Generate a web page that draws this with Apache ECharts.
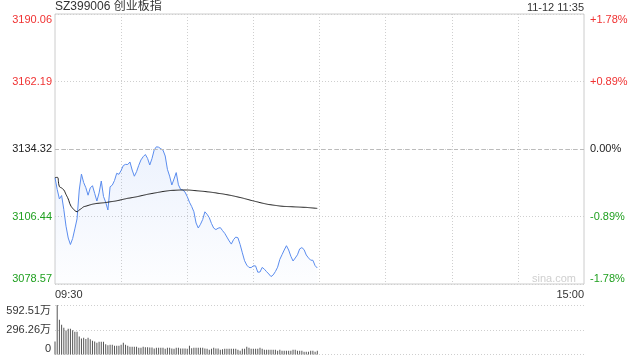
<!DOCTYPE html>
<html><head><meta charset="utf-8">
<script src="https://cdn.jsdelivr.net/npm/echarts@6/dist/echarts.min.js"></script>
<style>html,body{margin:0;padding:0;background:#fff}#c{width:640px;height:360px}</style>
</head><body><div id="c"></div>
<script>
const titleText = 'SZ399006 创业板指';
const stampText = '11-12 11:35';
const watermarkText = 'sina.com';
const prevClose = 3134.32;
const priceMin = 3078.57;
const priceMax = 3190.06;
const priceTickLabels = ['3078.57', '3106.44', '3134.32', '3162.19', '3190.06'];
const pctTickLabels = ['-1.78%', '-0.89%', '0.00%', '+0.89%', '+1.78%'];
const volMax = 592.51;
const volTickLabels = ['0', '296.26万', '592.51万'];
const timeTickLabels = ['09:30', '15:00'];

const price = [
  3122.46, 3117.59, 3113.67, 3115.11, 3109.29, 3102.44, 3097.56, 3094.88, 3097.32, 3101.32,
  3105.45, 3117.38, 3123.95, 3120.48, 3118.33, 3115.24, 3118.25, 3119.16, 3115.98, 3112.84,
  3116.19, 3121.10, 3114.74, 3112.31, 3109.13, 3118.71, 3119.41, 3121.31, 3124.28, 3123.87,
  3125.48, 3127.50, 3127.96, 3127.91, 3128.95, 3125.64, 3123.08, 3124.94, 3127.58, 3129.81,
  3131.13, 3132.04, 3130.43, 3127.71, 3130.35, 3133.94, 3135.22, 3135.06, 3134.44, 3133.82,
  3131.42, 3125.93, 3123.12, 3119.45, 3121.93, 3124.57, 3119.53, 3117.63, 3117.38, 3116.52,
  3114.66, 3112.35, 3110.57, 3108.42, 3103.76, 3101.69, 3103.22, 3105.20, 3108.38, 3107.35,
  3105.95, 3103.55, 3101.65, 3101.03, 3101.61, 3101.86, 3100.62, 3099.50, 3097.94, 3096.37,
  3095.05, 3096.90, 3097.94, 3097.65, 3094.84, 3091.45, 3088.19, 3086.37, 3085.42, 3085.34,
  3086.08, 3086.04, 3083.44, 3083.52, 3085.42, 3084.68, 3083.65, 3082.70, 3081.63, 3082.33,
  3083.73, 3085.51, 3088.73, 3090.67, 3092.61, 3094.38, 3092.61, 3090.01, 3088.07, 3089.31,
  3090.63, 3093.06, 3093.60, 3092.77, 3090.54, 3089.35, 3088.40, 3088.36, 3086.17, 3085.18
];
const avgPrice = [
  3122.46, 3122.63, 3118.83, 3118.21, 3117.38, 3115.53, 3113.67, 3111.19, 3109.83, 3108.92,
  3108.42, 3109.13, 3109.74, 3110.45, 3110.70, 3110.99, 3111.27, 3111.52, 3111.69, 3111.85,
  3111.93, 3112.02, 3112.10, 3112.22, 3112.35, 3112.51, 3112.64, 3112.76, 3112.93, 3113.13,
  3113.34, 3113.55, 3113.75, 3113.96, 3114.08, 3114.25, 3114.41, 3114.58, 3114.78, 3114.99,
  3115.20, 3115.40, 3115.61, 3115.78, 3115.94, 3116.11, 3116.27, 3116.44, 3116.60, 3116.77,
  3116.89, 3117.02, 3117.14, 3117.22, 3117.26, 3117.30, 3117.34, 3117.38, 3117.38, 3117.38,
  3117.38, 3117.34, 3117.26, 3117.18, 3117.09, 3117.02, 3116.93, 3116.85, 3116.77, 3116.64,
  3116.56, 3116.44, 3116.31, 3116.19, 3116.02, 3115.90, 3115.78, 3115.61, 3115.44, 3115.28,
  3115.11, 3114.91, 3114.70, 3114.49, 3114.29, 3114.08, 3113.83, 3113.59, 3113.34, 3113.09,
  3112.88, 3112.64, 3112.43, 3112.18, 3111.97, 3111.77, 3111.56, 3111.39, 3111.27, 3111.14,
  3111.02, 3110.90, 3110.77, 3110.69, 3110.61, 3110.57, 3110.53, 3110.49, 3110.44, 3110.40,
  3110.36, 3110.32, 3110.28, 3110.24, 3110.20, 3110.12, 3110.03, 3109.95, 3109.87, 3109.79
];
const volume = [
  155, 592.51, 415, 355, 319, 287, 307, 307, 291, 271,
  271, 215, 191, 200, 187, 200, 184, 164, 156, 140,
  152, 152, 152, 124, 112, 116, 116, 104, 104, 104,
  116, 140, 116, 104, 92, 92, 92, 92, 80, 80,
  92, 88, 88, 84, 84, 72, 80, 80, 80, 80,
  68, 80, 80, 72, 68, 80, 80, 72, 72, 72,
  68, 104, 76, 80, 80, 80, 80, 80, 72, 68,
  56, 68, 80, 72, 72, 56, 64, 68, 68, 68,
  68, 68, 68, 56, 44, 68, 68, 92, 80, 68,
  68, 68, 68, 80, 68, 56, 56, 56, 56, 56,
  56, 44, 56, 44, 44, 44, 44, 44, 56, 56,
  44, 44, 44, 32, 32, 32, 44, 44, 32, 44
];

// trading-minute categories (09:30-11:30, 13:01-15:00)
const times = [];
function pad(n) { return (n < 10 ? '0' : '') + n; }
for (let m = 9 * 60 + 30; m <= 11 * 60 + 30; m++) times.push(pad(Math.floor(m / 60)) + ':' + pad(m % 60));
for (let m = 13 * 60 + 1; m <= 15 * 60; m++) times.push(pad(Math.floor(m / 60)) + ':' + pad(m % 60));

const RED = '#f03232', GREEN = '#20a020', BLACK = '#222';
const FONT = '"Liberation Sans", Arial, "Noto Sans CJK SC", sans-serif';
const pInterval = (priceMax - priceMin) / 4;
function pIdx(v) { return Math.round((v - priceMin) / pInterval); }
function pColor(v) { const k = pIdx(v); return k < 2 ? GREEN : (k > 2 ? RED : BLACK); }
const vInterval = volMax / 2;

const chart = echarts.init(document.getElementById('c'), null, { renderer: 'canvas' });
chart.setOption({
  animation: false,
  backgroundColor: '#fff',
  textStyle: { fontFamily: FONT },
  graphic: [
    { type: 'text', left: 55, top: 1, style: { text: titleText, fontSize: 12, fill: '#333', fontFamily: FONT } },
    { type: 'text', right: 56, top: 2, style: { text: stampText, fontSize: 11, fill: '#333', fontFamily: FONT } },
    { type: 'text', left: 532, top: 273, style: { text: watermarkText, fontSize: 11, fill: '#cfcfcf', fontFamily: FONT } }
  ],
  grid: [
    { left: 55, right: 56, top: 14, height: 270, show: true, borderColor: '#cccccc', borderWidth: 1, containLabel: false },
    { left: 55, right: 56, top: 305, height: 49.5, show: false, containLabel: false }
  ],
  xAxis: [
    {
      type: 'category', gridIndex: 0, data: times, boundaryGap: false,
      axisLine: { show: false }, axisTick: { show: false },
      axisLabel: {
        interval: function (i) { return i === 0 || i === times.length - 1; },
        formatter: function (v, i) { return i === 0 ? timeTickLabels[0] : timeTickLabels[1]; },
        alignMinLabel: 'left', alignMaxLabel: 'right',
        fontSize: 11, color: '#333', margin: 5, fontFamily: FONT, showMinLabel: true, showMaxLabel: true
      },
      splitLine: {
        show: true,
        interval: function (i) { return i > 0 && i < times.length - 1 && i % 30 === 0; },
        lineStyle: { color: '#cfcfcf', type: [1, 2], width: 1 }
      }
    },
    {
      type: 'category', gridIndex: 1, data: times, boundaryGap: false,
      axisLine: { show: false }, axisTick: { show: false }, axisLabel: { show: false }, splitLine: { show: false }
    }
  ],
  yAxis: [
    {
      type: 'value', gridIndex: 0, position: 'left', min: priceMin, max: priceMax, interval: pInterval,
      axisLine: { show: false }, axisTick: { show: false },
      axisLabel: {
        formatter: function (v) { return priceTickLabels[pIdx(v)]; },
        color: function (v) { return pColor(v); },
        fontSize: 11, margin: 3, fontFamily: FONT,
        verticalAlignMinLabel: 'bottom', verticalAlignMaxLabel: 'top'
      },
      splitLine: {
        show: true,
        lineStyle: { color: '#cfcfcf', type: [1, 2], width: 1 }
      }
    },
    {
      type: 'value', gridIndex: 0, position: 'right', min: priceMin, max: priceMax, interval: pInterval,
      axisLine: { show: false }, axisTick: { show: false },
      axisLabel: {
        formatter: function (v) { return pctTickLabels[pIdx(v)]; },
        color: function (v) { return pColor(v); },
        fontSize: 11, margin: 6, fontFamily: FONT,
        verticalAlignMinLabel: 'bottom', verticalAlignMaxLabel: 'top'
      },
      splitLine: { show: false }
    },
    {
      type: 'value', gridIndex: 2 - 1, min: 0, max: volMax, interval: vInterval,
      axisLine: { show: false }, axisTick: { show: false },
      axisLabel: {
        formatter: function (v) { return volTickLabels[Math.round(v / vInterval)]; },
        color: '#333', fontSize: 11, margin: 4, fontFamily: FONT,
        verticalAlignMinLabel: 'bottom', verticalAlignMaxLabel: 'top'
      },
      splitLine: { show: true, lineStyle: { color: '#cfcfcf', type: [1, 2], width: 1 } }
    }
  ],
  series: [
    {
      type: 'line', xAxisIndex: 0, yAxisIndex: 0, data: price, symbol: 'none', smooth: false,
      lineStyle: { color: '#5b8def', width: 1 },
      areaStyle: {
        origin: 'start',
        color: new echarts.graphic.LinearGradient(0, 0, 0, 1, [
          { offset: 0, color: 'rgba(91,141,239,0.16)' },
          { offset: 1, color: 'rgba(91,141,239,0.02)' }
        ])
      },
      markLine: {
        silent: true, symbol: 'none', label: { show: false },
        lineStyle: { color: '#bbbbbb', type: [4, 3], width: 1 },
        data: [{ yAxis: prevClose }]
      },
      z: 3
    },
    {
      type: 'line', xAxisIndex: 0, yAxisIndex: 0, data: avgPrice, symbol: 'none', smooth: true,
      lineStyle: { color: '#222', width: 1 }, z: 4
    },
    {
      type: 'bar', xAxisIndex: 1, yAxisIndex: 2, data: volume, barWidth: 1,
      itemStyle: { color: '#555' }
    }
  ]
});
</script>
</body></html>
